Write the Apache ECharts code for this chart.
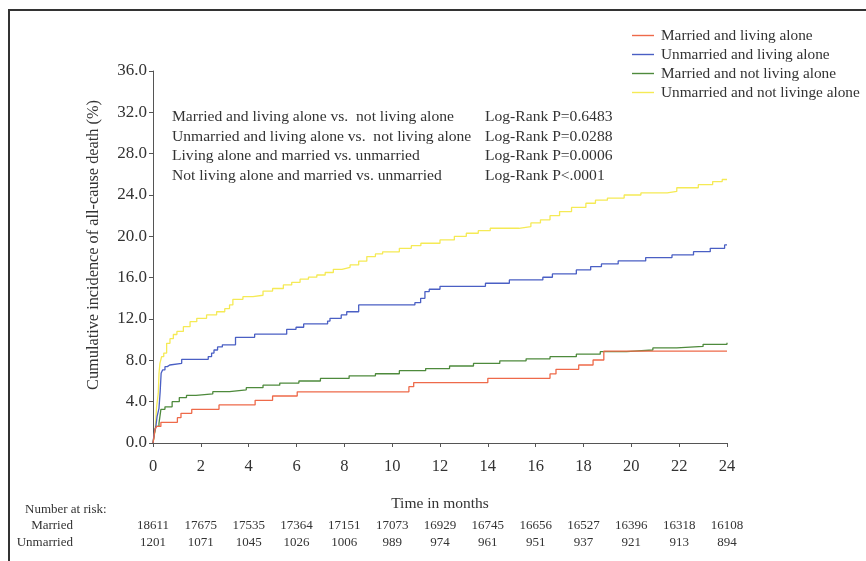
<!DOCTYPE html>
<html>
<head>
<meta charset="utf-8">
<script src="https://cdn.jsdelivr.net/npm/echarts@6/dist/echarts.min.js"></script>
<style>
  html, body { margin: 0; padding: 0; background: #fff; }
  #chart { width: 866px; height: 561px; }
</style>
</head>
<body>
<div id="chart"></div>
<script>
// Kaplan-Meier style cumulative incidence, [month, percent] at each step
const marriedAlone = [[0,0],[0.03,0.4],[0.08,1.3],[0.15,1.6],[0.33,2.0],[1.02,2.45],[1.17,2.87],[1.62,3.26],[2.76,3.68],[4.27,4.13],[5.0,4.55],[6.03,4.95],[10.7,5.45],[10.9,5.85],[14.0,6.26],[16.6,6.68],[16.85,7.13],[17.8,7.55],[18.4,8.03],[18.85,8.9],[24,8.9]];
const unmarriedAlone = [[0,0],[0.03,0.6],[0.08,1.3],[0.12,1.6],[0.17,2.55],[0.25,3.36],[0.3,4.97],[0.34,6.74],[0.4,7.07],[0.5,7.39],[0.6,7.55],[0.7,7.71],[1.2,8.1],[2.31,8.36],[2.45,8.7],[2.55,9.0],[2.7,9.3],[2.9,9.5],[3.45,10.23],[4.25,10.53],[5.59,11.0],[5.98,11.2],[6.3,11.52],[7.3,11.8],[7.4,12.07],[7.87,12.39],[8.1,12.7],[8.6,13.36],[10.95,13.58],[11.19,14.0],[11.37,14.65],[11.55,14.88],[12.0,15.16],[13.9,15.46],[14.9,15.78],[16.3,16.04],[16.7,16.36],[17.7,16.75],[18.3,17.07],[18.75,17.33],[19.45,17.62],[20.6,17.94],[21.7,18.2],[22.6,18.52],[23.3,18.84],[23.9,19.17],[24,19.17]];
const marriedNotAlone = [[0,0],[0.05,0.8],[0.12,1.6],[0.25,1.9],[0.33,3.26],[0.5,3.5],[0.8,4.0],[1.1,4.4],[1.4,4.6],[1.8,4.75],[2.5,4.97],[3.2,5.15],[3.9,5.35],[4.6,5.6],[5.3,5.8],[6.1,6.0],[7.0,6.25],[8.2,6.5],[9.3,6.7],[10.3,7.0],[11.4,7.2],[12.4,7.45],[13.4,7.7],[14.5,7.95],[15.6,8.15],[16.6,8.35],[17.7,8.6],[18.7,8.84],[19.8,9.0],[20.9,9.2],[21.9,9.35],[23.0,9.55],[24,9.71]];
const unmarriedNotAlone = [[0,0],[0.06,0.8],[0.1,1.6],[0.15,3.5],[0.22,4.8],[0.25,6.7],[0.29,7.7],[0.36,8.36],[0.45,8.7],[0.57,9.65],[0.71,10.1],[0.85,10.5],[1.0,10.8],[1.27,11.26],[1.55,11.74],[1.83,12.07],[2.24,12.39],[2.66,12.7],[3.0,13.0],[3.2,13.36],[3.34,13.9],[3.76,14.16],[4.18,14.3],[4.6,14.7],[5.0,14.95],[5.45,15.3],[5.8,15.55],[6.15,15.85],[6.5,16.05],[6.85,16.26],[7.2,16.5],[7.54,16.81],[7.9,17.0],[8.24,17.23],[8.6,17.6],[8.94,18.04],[9.3,18.3],[9.6,18.5],[10.3,18.84],[10.8,19.1],[11.2,19.33],[12.0,19.65],[12.6,20.0],[13.1,20.3],[13.6,20.55],[14.1,20.78],[15.3,20.94],[15.8,21.3],[16.2,21.6],[16.6,22.0],[17.0,22.4],[17.5,22.8],[18.1,23.2],[18.5,23.5],[19.0,23.7],[19.7,24.0],[20.4,24.2],[21.5,24.35],[21.9,24.7],[22.8,25.0],[23.4,25.3],[23.8,25.5],[24,25.5]];

const seriesNames = ['Married and living alone', 'Unmarried and living alone', 'Married and not living alone', 'Unmarried and not livinge alone'];
const seriesColors = ['#ee6a4a', '#4a5fc4', '#4e8a3c', '#f5ea55'];

// numbers at risk every 2 months
const riskMonths = [0,2,4,6,8,10,12,14,16,18,20,22,24];
const riskMarried = [18611,17675,17535,17364,17151,17073,16929,16745,16656,16527,16396,16318,16108];
const riskUnmarried = [1201,1071,1045,1026,1006,989,974,961,951,937,921,913,894];

const comparisons = [
  'Married and living alone vs.  not living alone',
  'Unmarried and living alone vs.  not living alone',
  'Living alone and married vs. unmarried',
  'Not living alone and married vs. unmarried'
];
const pValues = ['Log-Rank P=0.6483', 'Log-Rank P=0.0288', 'Log-Rank P=0.0006', 'Log-Rank P<.0001'];

const FONT = 'Liberation Serif';
const TXT = '#333';

const chart = echarts.init(document.getElementById('chart'), null, { renderer: 'canvas' });

function riskAxis(values, offset) {
  return {
    type: 'value', position: 'bottom', min: 0, max: 24, interval: 2, offset: offset,
    axisLine: { show: false }, axisTick: { show: false }, splitLine: { show: false },
    axisLabel: {
      margin: 0, fontFamily: FONT, fontSize: 13, color: TXT,
      formatter: v => { const i = riskMonths.indexOf(v); return i >= 0 ? String(values[i]) : ''; }
    }
  };
}

const graphics = [
  { type: 'line', shape: { x1: 8, y1: 10, x2: 866, y2: 10 }, style: { stroke: '#333', lineWidth: 2 } },
  { type: 'line', shape: { x1: 9, y1: 10, x2: 9, y2: 561 }, style: { stroke: '#333', lineWidth: 2 } },
  { type: 'text', left: 25, top: 503, style: { text: 'Number at risk:', fontFamily: FONT, fontSize: 13, fill: TXT } },
  { type: 'text', right: 866 - 73, top: 519, style: { text: 'Married', fontFamily: FONT, fontSize: 13, fill: TXT } },
  { type: 'text', right: 866 - 73, top: 536, style: { text: 'Unmarried', fontFamily: FONT, fontSize: 13, fill: TXT } },
  { type: 'text', x: 94, y: 245, rotation: Math.PI / 2,
    style: { text: 'Cumulative incidence of all-cause death (%)', fontFamily: FONT, fontSize: 16.3, fill: TXT, align: 'center', verticalAlign: 'middle' } }
];
comparisons.forEach((t, i) => {
  graphics.push({ type: 'text', left: 172, top: 109 + i * 19.5, style: { text: t, fontFamily: FONT, fontSize: 15.6, fill: TXT } });
  graphics.push({ type: 'text', left: 485, top: 109 + i * 19.5, style: { text: pValues[i], fontFamily: FONT, fontSize: 15.6, fill: TXT } });
});

const dataSets = [marriedAlone, unmarriedAlone, marriedNotAlone, unmarriedNotAlone];

chart.setOption({
  animation: false,
  backgroundColor: '#fff',
  grid: { left: 153, right: 139, top: 71, bottom: 118 },
  legend: {
    orient: 'vertical', left: 627, top: 23, itemWidth: 22, itemHeight: 1.4, itemGap: 4,
    icon: 'rect',
    textStyle: { fontFamily: FONT, fontSize: 15.3, color: TXT, padding: [0, 0, 0, 2] },
    data: seriesNames
  },
  xAxis: [
    {
      type: 'value', min: 0, max: 24, interval: 2,
      name: 'Time in months', nameLocation: 'middle', nameGap: 53,
      nameTextStyle: { fontFamily: FONT, fontSize: 15.5, color: TXT },
      axisLine: { lineStyle: { color: '#555', width: 1 } },
      axisTick: { lineStyle: { color: '#555' }, length: 4 },
      splitLine: { show: false },
      axisLabel: { fontFamily: FONT, fontSize: 16.5, color: TXT, margin: 15 }
    },
    riskAxis(riskMarried, 76),
    riskAxis(riskUnmarried, 93)
  ],
  yAxis: {
    type: 'value', min: 0, max: 36, interval: 4,
    axisLine: { show: true, lineStyle: { color: '#555', width: 1 } },
    axisTick: { show: true, lineStyle: { color: '#555' }, length: 4 },
    splitLine: { show: false },
    axisLabel: { fontFamily: FONT, fontSize: 17, color: TXT, margin: 6, formatter: v => v.toFixed(1) }
  },
  series: dataSets.map((d, i) => ({
    name: seriesNames[i], type: 'line', step: 'end', data: d, symbol: 'none',
    lineStyle: { color: seriesColors[i], width: 1.3 }, itemStyle: { color: seriesColors[i] },
    xAxisIndex: 0, z: 2 + (3 - i)
  })),
  graphic: graphics
});
</script>
</body>
</html>
